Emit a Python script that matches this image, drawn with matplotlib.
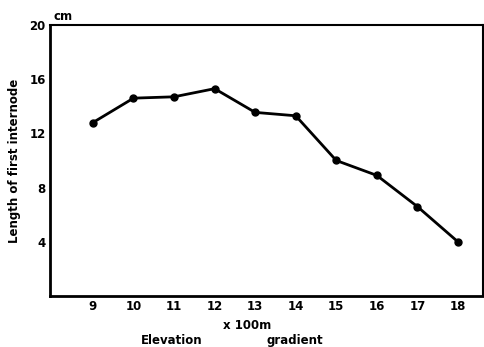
import matplotlib
matplotlib.use("Agg")
import matplotlib.pyplot as plt

# Daten
elevation = [9, 10, 11, 12, 13, 14, 15, 16, 17, 18]
length_cm = [12.8, 14.6, 14.7, 15.3, 13.55, 13.3, 10.0, 8.9, 6.6, 4.0]
x_labels = ["9", "10", "11", "12", "13", "14", "15", "16", "17", "18"]
y_ticks = [4, 8, 12, 16, 20]

fig = plt.figure(figsize=(4.85, 3.47), dpi=100)
ax = fig.add_axes([0.103, 0.147, 0.893, 0.781])

ax.plot(elevation, length_cm, color="black", linewidth=2, marker="o",
        markersize=5, markerfacecolor="black")

ax.set_xlim(7.94, 18.62)
ax.set_ylim(0, 20)
ax.set_xticks(elevation)
ax.set_xticklabels(x_labels)
ax.set_yticks(y_ticks)
ax.tick_params(length=0, labelsize=8.5, pad=3)
for lbl in ax.get_xticklabels() + ax.get_yticklabels():
    lbl.set_fontweight("bold")

for s in ax.spines.values():
    s.set_linewidth(1.5)
ax.spines["left"].set_linewidth(2)
ax.spines["bottom"].set_linewidth(2)

ax.set_ylabel("Length of first internode", fontsize=8.5, fontweight="bold", labelpad=6)
fig.text(0.11, 0.935, "cm", fontsize=8.5, fontweight="bold", ha="left", va="bottom")
fig.text(0.51, 0.063, "x 100m", fontsize=8.5, fontweight="bold", ha="center", va="center")
fig.text(0.355, 0.02, "Elevation", fontsize=8.5, fontweight="bold", ha="center", va="center")
fig.text(0.608, 0.02, "gradient", fontsize=8.5, fontweight="bold", ha="center", va="center")

fig.savefig("out.png", dpi=100)
